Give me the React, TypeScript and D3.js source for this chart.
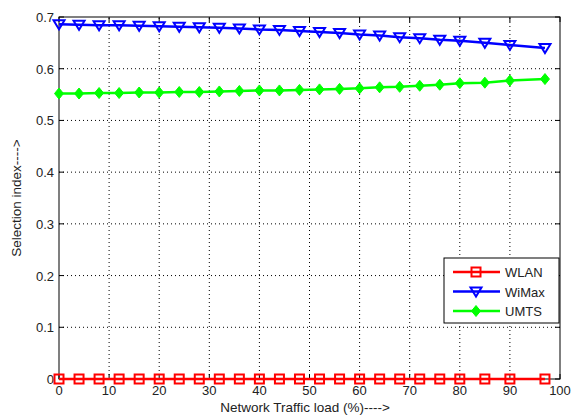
import React from 'react'
import * as d3 from 'd3'

const xLoad = [0, 4, 8, 12, 16, 20, 24, 28, 32, 36, 40, 44, 48, 52, 56, 60, 64, 68, 72, 76, 80, 85, 90, 97]
const wlan = xLoad.map(() => 0)
const wimax = [0.686, 0.685, 0.684, 0.684, 0.683, 0.682, 0.681, 0.680, 0.679, 0.678, 0.676, 0.675, 0.673, 0.671, 0.669, 0.666, 0.664, 0.661, 0.659, 0.656, 0.654, 0.650, 0.646, 0.640]
const umts = [0.552, 0.552, 0.553, 0.553, 0.554, 0.554, 0.555, 0.555, 0.556, 0.557, 0.558, 0.558, 0.559, 0.560, 0.561, 0.562, 0.564, 0.565, 0.567, 0.569, 0.572, 0.573, 0.577, 0.580]
const xTicks = [0, 10, 20, 30, 40, 50, 60, 70, 80, 90, 100]
const yTicks = [0, 0.1, 0.2, 0.3, 0.4, 0.5, 0.6, 0.7]
const yTickLabels = ['0', '0.1', '0.2', '0.3', '0.4', '0.5', '0.6', '0.7']

const W = 573
const H = 418
const m = { left: 59, right: 13, top: 17, bottom: 39 }
const font = 'Liberation Sans, Arial, sans-serif'

const series = [
  { name: 'WLAN', values: wlan, color: '#ff0000', marker: 'square' },
  { name: 'WiMax', values: wimax, color: '#0000ff', marker: 'tri' },
  { name: 'UMTS', values: umts, color: '#00ff00', marker: 'diamond' },
]

function Marker({ type, x, y, color }: { type: string; x: number; y: number; color: string }) {
  if (type === 'square') {
    return <rect x={x - 4.5} y={y - 4.5} width={9} height={9} fill="none" stroke={color} strokeWidth={2} />
  }
  if (type === 'tri') {
    return <path d={`M${x - 5.5},${y - 4} L${x + 5.5},${y - 4} L${x},${y + 5} Z`} fill="none" stroke={color} strokeWidth={2} />
  }
  return <path d={`M${x},${y - 5.5} L${x + 4.5},${y} L${x},${y + 5.5} L${x - 4.5},${y} Z`} fill={color} stroke={color} strokeWidth={1} />
}

export default function App() {
  const x = d3.scaleLinear().domain([0, 100]).range([m.left, W - m.right])
  const y = d3.scaleLinear().domain([0, 0.7]).range([H - m.bottom, m.top])
  const line = d3.line<number>().x((_, i) => x(xLoad[i])).y((d) => y(d))
  const [x0, x1] = x.range()
  const [y0, y1] = y.range()

  return (
    <svg width={W} height={H} style={{ position: 'absolute', left: 0, top: 0, background: '#fff' }}>
      <rect width={W} height={H} fill="#fff" />
      {/* grid */}
      {xTicks.slice(1, -1).map((t) => (
        <line key={'gx' + t} x1={x(t)} x2={x(t)} y1={y0} y2={y1} stroke="#000" strokeWidth={1} strokeDasharray="1,3" />
      ))}
      {yTicks.slice(1, -1).map((t) => (
        <line key={'gy' + t} x1={x0} x2={x1} y1={y(t)} y2={y(t)} stroke="#000" strokeWidth={1} strokeDasharray="1,3" />
      ))}
      {/* ticks inside */}
      {xTicks.map((t) => (
        <g key={'tx' + t}>
          <line x1={x(t)} x2={x(t)} y1={y0} y2={y0 - 5} stroke="#000" />
          <line x1={x(t)} x2={x(t)} y1={y1} y2={y1 + 5} stroke="#000" />
          <text x={x(t)} y={y0 + 16} textAnchor="middle" fontFamily={font} fontSize={13} fill="#222">{t}</text>
        </g>
      ))}
      {yTicks.map((t, i) => (
        <g key={'ty' + t}>
          <line x1={x0} x2={x0 + 5} y1={y(t)} y2={y(t)} stroke="#000" />
          <line x1={x1} x2={x1 - 5} y1={y(t)} y2={y(t)} stroke="#000" />
          <text x={x0 - 5} y={y(t) + 5} textAnchor="end" fontFamily={font} fontSize={13} fill="#222">{yTickLabels[i]}</text>
        </g>
      ))}
      <rect x={x0} y={y1} width={x1 - x0} height={y0 - y1} fill="none" stroke="#000" strokeWidth={1} />
      {/* series */}
      {series.map((s) => (
        <g key={s.name}>
          <path d={line(s.values) || ''} fill="none" stroke={s.color} strokeWidth={2.5} />
          {s.values.map((v, i) => (
            <Marker key={i} type={s.marker} x={x(xLoad[i])} y={y(v)} color={s.color} />
          ))}
        </g>
      ))}
      {/* legend */}
      <rect x={444} y={258} width={115} height={65} fill="#fff" stroke="#000" strokeWidth={1} />
      {series.map((s, i) => {
        const ly = 272 + i * 19.5
        return (
          <g key={'lg' + s.name}>
            <line x1={453} x2={500} y1={ly} y2={ly} stroke={s.color} strokeWidth={2.5} />
            <Marker type={s.marker} x={476} y={ly} color={s.color} />
            <text x={505} y={ly + 5} fontFamily={font} fontSize={13} fill="#222">{s.name}</text>
          </g>
        )
      })}
      <text x={305} y={412} textAnchor="middle" fontFamily={font} fontSize={13.5} fill="#222">Network Traffic load (%)----&gt;</text>
      <text transform={`translate(21,${(y0 + y1) / 2}) rotate(-90)`} textAnchor="middle" fontFamily={font} fontSize={13.5} fill="#222">Selection index----&gt;</text>
    </svg>
  )
}
